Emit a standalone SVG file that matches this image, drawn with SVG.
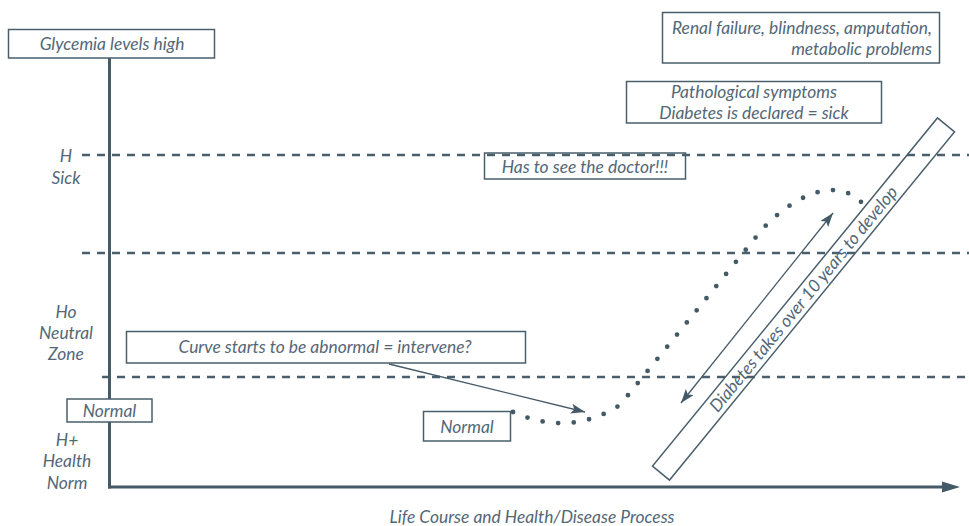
<svg xmlns="http://www.w3.org/2000/svg" width="969" height="526" viewBox="0 0 969 526">
<defs>
<style>
.t{font-family:Lato,"Open Sans","Liberation Sans",sans-serif;font-style:italic;font-size:17.4px;fill:#536777}
.c{text-anchor:middle}
.e{text-anchor:end}
.box{fill:#fff;stroke:#4a5f6c;stroke-width:1.5}
.obox{fill:none;stroke:#4a5f6c;stroke-width:1.5}
.dash{stroke:#4a5f6c;stroke-width:2.7;stroke-dasharray:8 7;fill:none}
.axis{stroke:#455a67;stroke-width:3;fill:none}
.thin{stroke:#455a67;stroke-width:1.3;fill:none}
.dots{stroke:#455a67;stroke-width:4.8;stroke-linecap:round;stroke-dasharray:0 15.6;fill:none}
</style>
<marker id="ah" viewBox="0 0 14 10" refX="14" refY="5" markerWidth="14" markerHeight="10" markerUnits="userSpaceOnUse" orient="auto-start-reverse">
<path d="M0,0 L14,5 L0,10 L3,5 z" fill="#455a67"/>
</marker>
</defs>

<g id="grid">
<line class="dash" x1="82" y1="155" x2="969" y2="155"/>
<line class="dash" x1="82" y1="253" x2="969" y2="253"/>
<line class="dash" x1="102" y1="377" x2="969" y2="377"/>
</g>

<g id="axes">
<line class="axis" x1="109.5" y1="58" x2="109.5" y2="488.5"/>
<line class="axis" x1="108" y1="487" x2="944" y2="487"/>
<polygon points="942,481.5 960,487 942,492.5" fill="#455a67"/>
</g>

<g id="y-labels">
<text class="t c" x="66" y="162">H</text>
<text class="t c" x="66" y="184">Sick</text>
<text class="t c" x="66" y="318">Ho</text>
<text class="t c" x="66" y="339">Neutral</text>
<text class="t c" x="66" y="360">Zone</text>
<text class="t c" x="67" y="446">H+</text>
<text class="t c" x="67" y="467">Health</text>
<text class="t c" x="67" y="489">Norm</text>
</g>

<g id="glycemia">
<rect class="box" x="8.5" y="29.5" width="206" height="28.5"/>
<text class="t c" x="112" y="49.5">Glycemia levels high</text>
</g>

<g id="renal">
<rect class="box" x="662.5" y="12.5" width="277" height="50.5"/>
<text class="t e" x="932" y="33.5">Renal failure, blindness, amputation,</text>
<text class="t e" x="932" y="55">metabolic problems</text>
</g>

<g id="pathological">
<rect class="box" x="626.5" y="81.5" width="255" height="41.5"/>
<text class="t c" x="754" y="97.5">Pathological symptoms</text>
<text class="t c" x="754" y="118.5">Diabetes is declared = sick</text>
</g>

<g id="doctor">
<rect class="obox" x="484.5" y="153" width="201" height="26"/>
<text class="t c" x="585" y="172.5">Has to see the doctor!!!</text>
</g>

<g id="curve-box">
<rect class="box" x="126.5" y="331.5" width="399" height="31.5"/>
<text class="t c" x="325" y="353">Curve starts to be abnormal = intervene?</text>
</g>

<g id="normal-left">
<rect class="box" x="67" y="399" width="85" height="23"/>
<text class="t c" x="109.5" y="416.5">Normal</text>
</g>

<g id="normal-mid">
<rect class="box" x="423.5" y="411.5" width="87" height="29.5"/>
<text class="t c" x="467" y="433">Normal</text>
</g>

<g id="diabetes-bar">
<g transform="translate(803.5,299) rotate(-50.7)">
<rect class="obox" x="-225" y="-11" width="450" height="22"/>
<text class="t c" x="0" y="6">Diabetes takes over 10 years to develop</text>
</g>
</g>

<g id="x-label">
<text class="t c" x="532" y="523">Life Course and Health/Disease Process</text>
</g>

<g id="connectors">
<line class="thin" x1="389" y1="364" x2="585" y2="412" marker-end="url(#ah)"/>
<line class="thin" x1="681" y1="403" x2="833" y2="213" marker-start="url(#ah)" marker-end="url(#ah)"/>
<path class="dots" d="M513,412 C540,424 578,432 620,405 L756,237 C778,208 832,168 864,205"/>
</g>
</svg>
